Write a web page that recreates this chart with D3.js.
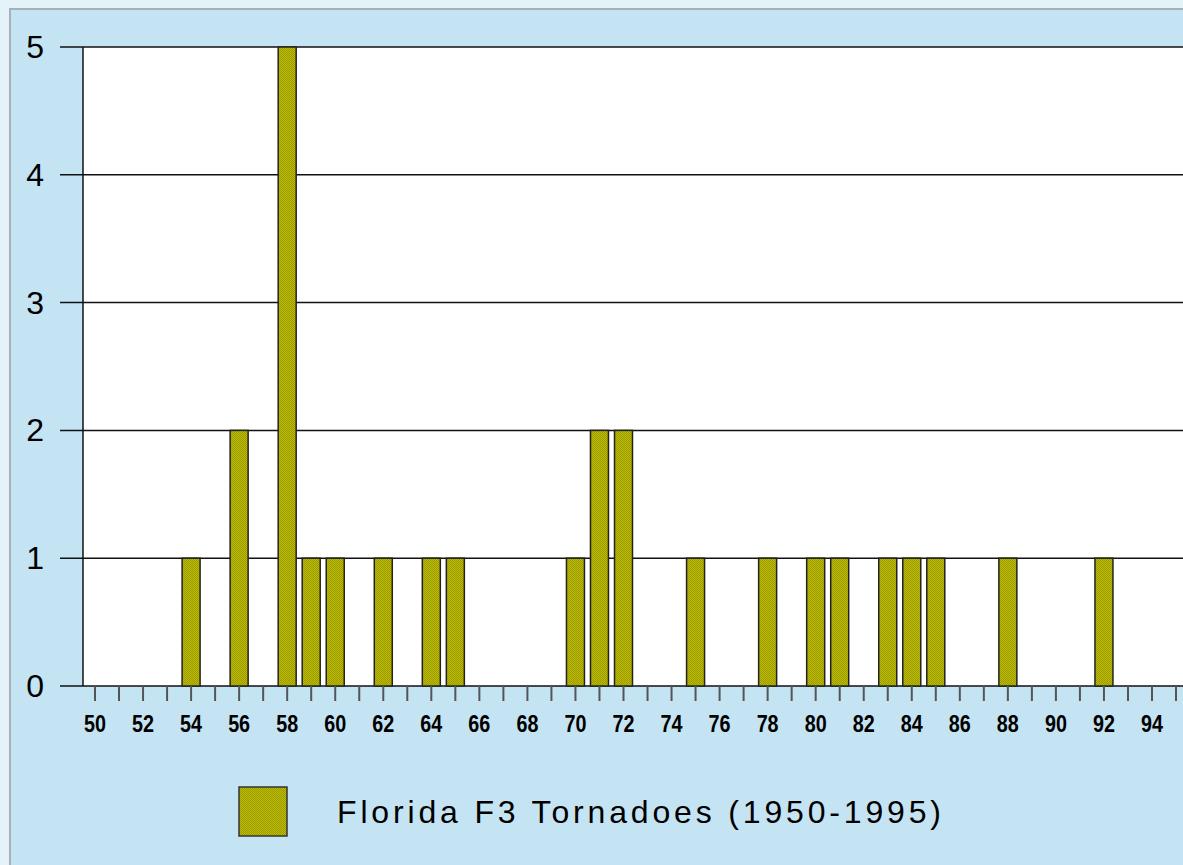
<!DOCTYPE html>
<html lang='en'>
<head>
<meta charset=utf-8>
<title>Florida F3 Tornadoes</title>
<script src="https://cdn.jsdelivr.net/npm/d3@7"></script>
<style>
	body { margin: 0; background: #e4f2f9; overflow: hidden; }
	svg { display: block; }
</style>
</head>
<body>
<svg id='chart' width="1183" height="865"></svg>
<script>
	// data
	const years = [54, 56, 58, 59, 60, 62, 64, 65, 70, 71, 72, 75, 78, 80, 81, 83, 84, 85, 88, 92];
	const counts = [1, 2, 5, 1, 1, 1, 1, 1, 1, 2, 2, 1, 1, 1, 1, 1, 1, 1, 1, 1];
	const yTicks = [0, 1, 2, 3, 4, 5];
	const xLabels = d3.range(50, 96, 2);
	const seriesName = 'Florida F3 Tornadoes (1950-1995)';

	const svg = d3.select('#chart');

	// frame
	svg.append('rect').attr('x', 0).attr('y', 0).attr('width', 1183).attr('height', 865).attr('fill', '#e4f2f9');
	svg.append('rect').attr('x', 10).attr('y', 9).attr('width', 1180).attr('height', 870)
		.attr('fill', '#c5e4f3').attr('stroke', '#a9b0b4').attr('stroke-width', 2);

	// scales
	const x = d3.scaleLinear().domain([50, 94]).range([95, 1152]);
	const y = d3.scaleLinear().domain([0, 5]).range([686, 47]);
	const barW = 18;

	// pattern for the dithered olive fill
	const pat = svg.append('defs').append('pattern').attr('id', 'dith')
		.attr('width', 2).attr('height', 2).attr('patternUnits', 'userSpaceOnUse');
	pat.append('rect').attr('width', 2).attr('height', 2).attr('fill', '#baba00');
	pat.append('rect').attr('width', 1).attr('height', 1).attr('fill', '#9c9c00');
	pat.append('rect').attr('x', 1).attr('y', 1).attr('width', 1).attr('height', 1).attr('fill', '#9c9c00');

	// plot area
	const left = x(49.5);
	svg.append('rect').attr('x', left).attr('y', y(5)).attr('width', 1183 - left + 5).attr('height', y(0) - y(5)).attr('fill', 'white');

	// gridlines + y labels
	svg.selectAll('.grid').data(yTicks).join('line')
		.attr('x1', 60).attr('x2', 1190)
		.attr('y1', d => y(d)).attr('y2', d => y(d))
		.attr('stroke', '#111').attr('stroke-width', 1.5);
	svg.selectAll('.ylab').data(yTicks).join('text')
		.attr('x', 44).attr('y', d => y(d) + 11)
		.attr('text-anchor', 'end')
		.attr('font-family', 'Liberation Sans, Arial, sans-serif')
		.attr('font-size', 32)
		.text(d => d);
	svg.append('line').attr('x1', left).attr('x2', left).attr('y1', y(5)).attr('y2', y(0))
		.attr('stroke', '#111').attr('stroke-width', 1.5);

	// bars
	svg.selectAll('.bar').data(years).join('rect')
		.attr('x', d => x(d) - barW / 2)
		.attr('y', (d, i) => y(counts[i]))
		.attr('width', barW)
		.attr('height', (d, i) => y(0) - y(counts[i]))
		.attr('fill', 'url(#dith)')
		.attr('stroke', '#222').attr('stroke-width', 1.5);

	// x axis ticks + labels
	svg.selectAll('.xt').data(d3.range(50, 96)).join('line')
		.attr('x1', d => x(d)).attr('x2', d => x(d))
		.attr('y1', y(0)).attr('y2', y(0) + 15)
		.attr('stroke', '#555').attr('stroke-width', 2);
	svg.selectAll('.xl').data(xLabels).join('text')
		.attr('x', d => x(d) - 11).attr('y', 732)
		.attr('font-family', 'Liberation Sans, Arial, sans-serif')
		.attr('font-weight', 'bold')
		.attr('font-size', 23)
		.attr('textLength', 22).attr('lengthAdjust', 'spacingAndGlyphs')
		.text(d => d);

	// legend
	svg.append('rect').attr('x', 239).attr('y', 787).attr('width', 48).attr('height', 49)
		.attr('fill', 'url(#dith)').attr('stroke', '#333').attr('stroke-width', 1.5);
	svg.append('text').attr('x', 337).attr('y', 823)
		.attr('font-family', 'Liberation Sans, Arial, sans-serif')
		.attr('font-size', 32)
		.attr('textLength', 604).attr('lengthAdjust', 'spacing')
		.text(seriesName);
</script>
</body>
</html>
